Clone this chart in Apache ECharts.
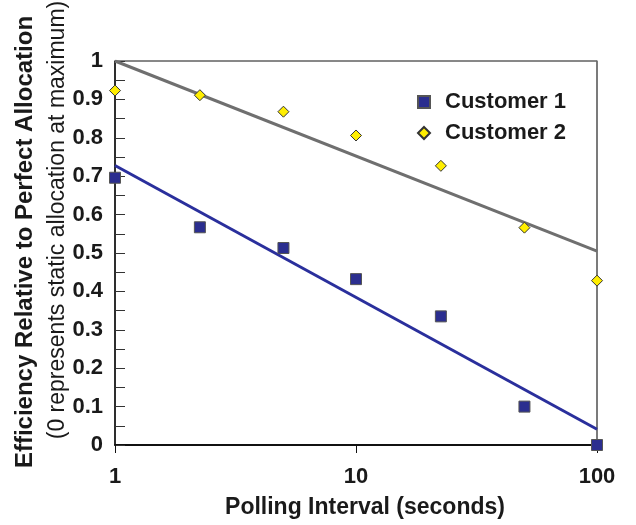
<!DOCTYPE html>
<html><head><meta charset="utf-8">
<script src="https://cdn.jsdelivr.net/npm/echarts@6/dist/echarts.min.js"></script>
<style>html,body{margin:0;padding:0;background:#fff}#c{width:636px;height:525px}</style>
</head><body><div id="c"></div>
<script>
var xTicks = [1, 10, 100];
var cust1X = [1, 2.25, 5, 10, 22.5, 50, 100];
var cust1Y = [0.696, 0.567, 0.513, 0.432, 0.335, 0.100, 0.0];
var cust2X = [1, 2.25, 5, 10, 22.5, 50, 100];
var cust2Y = [0.923, 0.911, 0.868, 0.806, 0.727, 0.566, 0.428];
var trend1 = [[1, 0.728], [100, 0.041]];
var trend2 = [[1, 1.0], [100, 0.505]];
var seriesNames = ['Customer 1', 'Customer 2'];
var xTitle = 'Polling Interval (seconds)';
var yTitle = 'Efficiency Relative to Perfect Allocation';
var ySub = '(0 represents static allocation at maximum)';

function zip(a, b) { return a.map(function (v, i) { return [v, b[i]]; }); }

var chart = echarts.init(document.getElementById('c'), null, {renderer: 'canvas'});
var font = '"Liberation Sans", Arial, sans-serif';
chart.setOption({
  animation: false,
  backgroundColor: '#fff',
  grid: {left: 115, right: 39, top: 61, bottom: 80, show: true, borderColor: '#111', borderWidth: 1, backgroundColor: 'transparent'},
  xAxis: [{
    type: 'log', logBase: 10, min: 1, max: 100,
    axisLine: {show: true, lineStyle: {color: '#111', width: 2}},
    axisTick: {show: true, inside: false, length: 8, lineStyle: {color: '#111', width: 1}},
    axisLabel: {fontSize: 22, fontWeight: 'bold', color: '#1a1a1a', fontFamily: font, margin: 21,
      formatter: function (v) { return xTicks.indexOf(Math.round(v)) >= 0 ? String(Math.round(v)) : ''; }},
    splitLine: {show: false}, minorTick: {show: false}
  }],
  yAxis: [{
    type: 'value', min: 0, max: 1, interval: 0.05,
    axisLine: {show: true, lineStyle: {color: '#111', width: 1.5}},
    axisTick: {show: true, inside: true, length: 10, lineStyle: {color: '#333', width: 1}},
    axisLabel: {fontSize: 22, fontWeight: 'bold', color: '#1a1a1a', fontFamily: font, margin: 12, padding: [5, 0, 0, 0],
      formatter: function (v) {
        var k = Math.round(v * 100);
        if (k % 10 !== 0) return '';
        return String(Math.round(v * 10) / 10);
      }},
    splitLine: {show: false}
  }, {
    type: 'value', min: 0, max: 1, position: 'right',
    axisLine: {show: true, lineStyle: {color: '#777', width: 1.5}},
    axisTick: {show: false}, axisLabel: {show: false}, splitLine: {show: false}
  }],
  legend: {
    orient: 'vertical', left: 412, top: 86,
    itemWidth: 12, itemHeight: 12, itemGap: 9,
    data: seriesNames,
    textStyle: {fontSize: 22, fontWeight: 'bold', color: '#1a1a1a', fontFamily: font, padding: [0, 0, 0, 10]}
  },
  series: [{
    name: 'trend2', type: 'line', data: trend2, symbol: 'none', silent: true,
    lineStyle: {color: '#6f6f6f', width: 3}, z: 2
  }, {
    name: 'trend1', type: 'line', data: trend1, symbol: 'none', silent: true,
    lineStyle: {color: '#2a2f9c', width: 3}, z: 2
  }, {
    name: seriesNames[0], type: 'scatter', data: zip(cust1X, cust1Y), clip: false,
    symbol: 'rect', symbolSize: 11,
    itemStyle: {color: '#2b2e8f', borderColor: '#555', borderWidth: 1, opacity: 1}, z: 3
  }, {
    name: seriesNames[1], type: 'scatter', data: zip(cust2X, cust2Y), clip: false,
    symbol: 'diamond', symbolSize: 11,
    itemStyle: {color: '#ffee00', borderColor: '#333', borderWidth: 1, opacity: 1}, z: 3
  }],
  graphic: [{
    type: 'text', x: 365, y: 508,
    style: {text: xTitle, font: 'bold 23px ' + font, fill: '#1a1a1a', textAlign: 'center', textVerticalAlign: 'middle'}
  }, {
    type: 'text', x: 25, y: 242, rotation: Math.PI / 2,
    style: {text: yTitle, font: 'bold 24px ' + font, fill: '#1a1a1a', textAlign: 'center', textVerticalAlign: 'middle'}
  }, {
    type: 'text', x: 58, y: 220, rotation: Math.PI / 2,
    style: {text: ySub, font: '23px ' + font, fill: '#1a1a1a', textAlign: 'center', textVerticalAlign: 'middle'}
  }]
});
</script></body></html>
